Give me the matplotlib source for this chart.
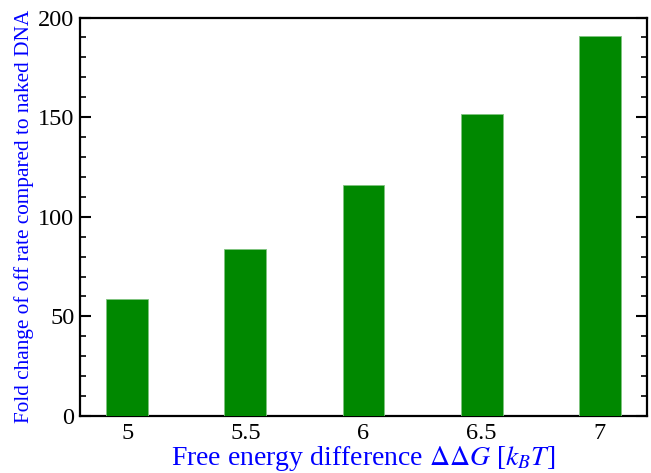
import matplotlib
matplotlib.use("Agg")
import matplotlib.pyplot as plt
from matplotlib.ticker import MultipleLocator

ddG = [5, 5.5, 6, 6.5, 7]
fold_change = [58.6, 83.7, 115.8, 151.6, 190.7]
xtick_labels = ["5", "5.5", "6", "6.5", "7"]

plt.rcParams['font.family'] = ['Liberation Serif', 'DejaVu Serif']
plt.rcParams['mathtext.fontset'] = 'stix'

fig = plt.figure(figsize=(6.51, 4.73), dpi=100)
ax = fig.add_axes([0.1229, 0.1205, 0.871, 0.8425])

ax.bar(ddG, fold_change, width=0.177, color='#008800', edgecolor='#7fc47f', linewidth=0.6, zorder=3)

ax.set_xlim(4.8, 7.2)
ax.set_ylim(0, 200)
ax.set_xticks(ddG)
ax.set_xticklabels(xtick_labels)
ax.yaxis.set_major_locator(MultipleLocator(50))
ax.yaxis.set_minor_locator(MultipleLocator(10))

ax.tick_params(axis='x', length=0, labelsize=17.5, pad=5)
ax.tick_params(axis='y', which='major', direction='in', length=8, width=1.5, labelsize=17.5, right=True, pad=4)
ax.tick_params(axis='y', which='minor', direction='in', length=4.5, width=1.2, right=True)
for s in ax.spines.values():
    s.set_linewidth(1.6)

ax.set_xlabel(r'Free energy difference $\Delta\Delta G$ [$k_BT$]', color='#0000ff', fontsize=20, labelpad=0)
ax.set_ylabel('Fold change of off rate compared to naked DNA', color='#0000ff', fontsize=15.3, labelpad=3)

fig.savefig('out.png', dpi=100)
